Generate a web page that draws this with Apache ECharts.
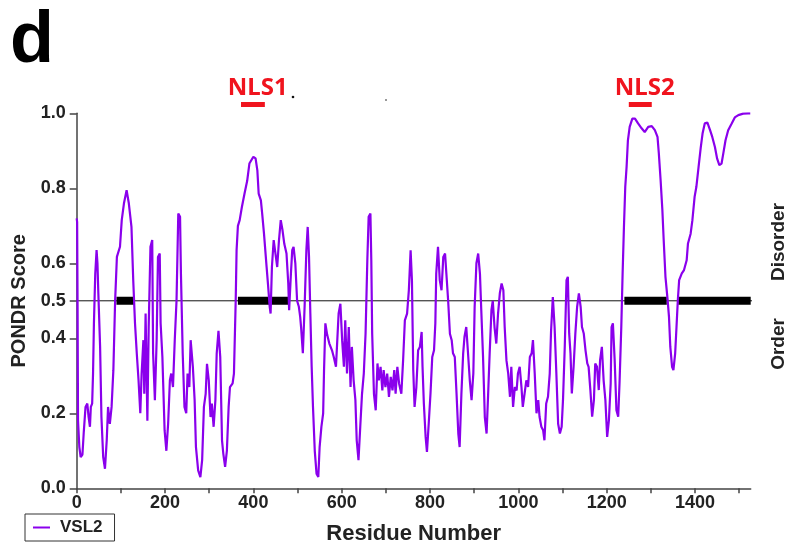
<!DOCTYPE html>
<html>
<head>
<meta charset="utf-8">
<script src="https://cdn.jsdelivr.net/npm/echarts@6/dist/echarts.min.js"></script>
<style>
  html, body { margin: 0; padding: 0; background: #fff; }
  #chart { width: 795px; height: 551px; }
</style>
</head>
<body>
<div id="chart"></div>
<script>
// PONDR VSL2 disorder profile.
const residues = [
  0, 1, 2, 3, 4, 6, 9, 13, 16, 20, 24, 27, 30, 32, 35, 37, 39, 42, 45, 47, 49, 53, 56, 60, 64, 68, 71, 75, 79, 83,
  87, 91, 98, 102, 107, 113, 118, 124, 128, 132, 136, 140, 144, 147, 151, 153, 156, 160, 163, 167, 171, 173, 177, 181, 184, 188, 190, 194, 199, 203,
  207, 211, 214, 218, 222, 226, 230, 234, 236, 240, 244, 248, 251, 255, 258, 263, 267, 270, 275, 280, 284, 288, 292, 295, 299, 303, 306, 310, 314, 317,
  321, 325, 329, 332, 336, 340, 344, 347, 353, 356, 360, 362, 365, 369, 374, 380, 386, 391, 400, 405, 409, 412, 417, 420, 424, 430, 433, 437, 439, 442,
  446, 450, 454, 458, 462, 466, 470, 475, 479, 481, 485, 488, 491, 495, 499, 503, 506, 508, 512, 516, 520, 523, 526, 529, 532, 535, 539, 543, 547, 550,
  554, 558, 560, 563, 567, 572, 578, 582, 587, 590, 593, 597, 601, 605, 608, 612, 616, 620, 623, 627, 631, 634, 638, 642, 646, 650, 654, 658, 661, 665,
  667, 669, 673, 677, 681, 684, 688, 692, 695, 699, 703, 707, 711, 715, 719, 722, 726, 730, 735, 739, 743, 748, 752, 756, 759, 762, 765, 769, 773, 777,
  781, 783, 786, 790, 793, 797, 801, 805, 809, 812, 814, 818, 822, 826, 830, 834, 837, 841, 845, 849, 852, 856, 860, 864, 867, 871, 875, 878, 882, 886,
  890, 894, 898, 901, 905, 909, 913, 916, 920, 924, 928, 931, 935, 939, 942, 946, 950, 954, 958, 962, 966, 969, 973, 977, 981, 984, 988, 992, 996, 999,
  1003, 1007, 1010, 1014, 1018, 1022, 1026, 1030, 1033, 1037, 1041, 1045, 1048, 1052, 1056, 1059, 1063, 1067, 1071, 1074, 1078, 1082, 1086, 1090, 1094, 1098, 1101, 1105, 1109, 1112,
  1115, 1118, 1121, 1125, 1129, 1133, 1137, 1141, 1144, 1148, 1152, 1156, 1159, 1163, 1167, 1171, 1174, 1178, 1182, 1185, 1189, 1193, 1197, 1201, 1205, 1209, 1211, 1214, 1218, 1222,
  1226, 1229, 1233, 1236, 1239, 1242, 1245, 1248, 1252, 1258, 1264, 1271, 1279, 1286, 1294, 1302, 1309, 1315, 1318, 1322, 1326, 1329, 1333, 1338, 1341, 1344, 1348, 1351, 1355, 1358,
  1361, 1364, 1370, 1375, 1381, 1384, 1390, 1394, 1399, 1403, 1408, 1413, 1417, 1422, 1428, 1434, 1439, 1445, 1450, 1455, 1460, 1464, 1469, 1475, 1483, 1490, 1498, 1509, 1520, 1525
];
const vsl2Scores = [
  0.72, 0.71, 0.48, 0.18, 0.18, 0.11, 0.083, 0.09, 0.15, 0.217, 0.226, 0.19, 0.164, 0.217, 0.226, 0.306, 0.44, 0.572, 0.635, 0.6, 0.52, 0.377, 0.19, 0.083, 0.052, 0.128, 0.217, 0.172, 0.217, 0.315,
  0.5, 0.617, 0.644, 0.715, 0.76, 0.795, 0.76, 0.697, 0.555, 0.44, 0.36, 0.288, 0.2, 0.306, 0.395, 0.252, 0.466, 0.18, 0.43, 0.644, 0.662, 0.36, 0.235, 0.395, 0.617, 0.626, 0.44, 0.35, 0.155, 0.1,
  0.172, 0.288, 0.306, 0.27, 0.395, 0.5, 0.733, 0.724, 0.572, 0.36, 0.217, 0.2, 0.306, 0.27, 0.395, 0.324, 0.235, 0.11, 0.048, 0.03, 0.075, 0.217, 0.252, 0.332, 0.288, 0.19, 0.226, 0.164, 0.235, 0.36,
  0.42, 0.35, 0.128, 0.092, 0.057, 0.1, 0.217, 0.27, 0.28, 0.306, 0.5, 0.635, 0.7, 0.715, 0.75, 0.786, 0.82, 0.866, 0.884, 0.88, 0.848, 0.786, 0.768, 0.732, 0.68, 0.59, 0.546, 0.484, 0.466, 0.59,
  0.662, 0.626, 0.59, 0.662, 0.715, 0.688, 0.652, 0.626, 0.546, 0.475, 0.572, 0.635, 0.644, 0.6, 0.5, 0.484, 0.457, 0.43, 0.36, 0.484, 0.635, 0.697, 0.617, 0.466, 0.324, 0.217, 0.1, 0.039, 0.03, 0.11,
  0.164, 0.2, 0.315, 0.44, 0.41, 0.386, 0.368, 0.35, 0.324, 0.395, 0.466, 0.492, 0.395, 0.324, 0.448, 0.306, 0.43, 0.27, 0.377, 0.288, 0.235, 0.128, 0.075, 0.164, 0.252, 0.306, 0.412, 0.608, 0.724, 0.733,
  0.608, 0.412, 0.252, 0.208, 0.333, 0.288, 0.324, 0.261, 0.315, 0.27, 0.306, 0.244, 0.297, 0.261, 0.315, 0.252, 0.324, 0.279, 0.252, 0.341, 0.448, 0.466, 0.528, 0.635, 0.555, 0.315, 0.217, 0.27, 0.368, 0.377,
  0.417, 0.324, 0.226, 0.137, 0.097, 0.172, 0.252, 0.35, 0.368, 0.44, 0.572, 0.644, 0.555, 0.528, 0.617, 0.626, 0.572, 0.5, 0.412, 0.395, 0.36, 0.35, 0.252, 0.146, 0.11, 0.252, 0.36, 0.404, 0.43, 0.36,
  0.288, 0.235, 0.306, 0.484, 0.6, 0.626, 0.572, 0.475, 0.35, 0.19, 0.146, 0.235, 0.36, 0.475, 0.5, 0.43, 0.386, 0.466, 0.52, 0.546, 0.528, 0.43, 0.341, 0.306, 0.244, 0.324, 0.217, 0.27, 0.261, 0.306,
  0.324, 0.27, 0.217, 0.252, 0.288, 0.27, 0.35, 0.36, 0.395, 0.306, 0.2, 0.235, 0.19, 0.164, 0.155, 0.128, 0.226, 0.244, 0.306, 0.42, 0.51, 0.43, 0.306, 0.172, 0.146, 0.164, 0.235, 0.377, 0.555, 0.564,
  0.413, 0.36, 0.253, 0.324, 0.413, 0.484, 0.52, 0.484, 0.43, 0.413, 0.368, 0.333, 0.324, 0.262, 0.191, 0.235, 0.333, 0.324, 0.262, 0.342, 0.377, 0.288, 0.235, 0.137, 0.182, 0.28, 0.43, 0.44, 0.342, 0.208,
  0.191, 0.28, 0.43, 0.573, 0.697, 0.804, 0.857, 0.928, 0.964, 0.986, 0.986, 0.973, 0.96, 0.95, 0.964, 0.966, 0.955, 0.937, 0.893, 0.822, 0.742, 0.662, 0.564, 0.501, 0.457, 0.377, 0.324, 0.315, 0.36, 0.43,
  0.501, 0.555, 0.573, 0.582, 0.608, 0.653, 0.679, 0.715, 0.777, 0.804, 0.857, 0.91, 0.946, 0.973, 0.975, 0.955, 0.937, 0.91, 0.879, 0.862, 0.866, 0.893, 0.928, 0.955, 0.973, 0.989, 0.995, 0.999, 1.0, 1.0
];

// predicted disordered regions (black bars on the 0.5 cut-off)
const disorderStart = [90, 365, 1240, 1362];
const disorderEnd = [130, 479, 1336, 1526];

// nuclear localisation signals marked above the plot
const nlsNames = ["NLS1", "NLS2"];
const nlsStart = [372, 1250];
const nlsEnd = [426, 1302];
const nlsLabelAt = [410, 1286];

const threshold = 0.5;
const thresholdEnd = 1608;   // the cut-off line runs past the axis end
const residueMax = 1526;
const xTickValues = [0, 100, 200, 300, 400, 500, 600, 700, 800, 900, 1000, 1100, 1200, 1300, 1400, 1500];
const xLabelValues = [0, 200, 400, 600, 800, 1000, 1200, 1400];
const yTickValues = [0, 0.2, 0.4, 0.5, 0.6, 0.8, 1.0];

const PURPLE = "#8a00ec";
const RED = "#f0141e";
const INK = "#222";
const ARIAL = "'Liberation Sans', Arial, sans-serif";

const chart = echarts.init(document.getElementById("chart"));

const disorderData = [];
disorderStart.forEach((s, i) => {
  disorderData.push([s, threshold], [disorderEnd[i], threshold], [disorderEnd[i], "-"]);
});

chart.setOption({
  animation: false,
  backgroundColor: "#fff",
  grid: { left: 76.7, right: 44.3, top: 113.3, bottom: 62.7 },
  legend: {
    data: ["VSL2"],
    left: 25, top: 514,
    icon: "rect", itemWidth: 17, itemHeight: 2,
    borderColor: "#333", borderWidth: 1,
    padding: [5, 12, 5, 8],
    textStyle: { fontFamily: ARIAL, fontWeight: "bold", fontSize: 17, color: INK, padding: [0, 0, 0, 5] },
  },
  xAxis: {
    type: "value",
    min: 0, max: residueMax, interval: 100,
    name: "Residue Number",
    nameLocation: "middle", nameGap: 35,
    nameTextStyle: { fontFamily: ARIAL, fontWeight: "bold", fontSize: 22, color: INK },
    axisLine: { lineStyle: { color: "#444", width: 1.5 } },
    axisTick: { length: 5, lineStyle: { color: "#444", width: 1.5 }, customValues: xTickValues },
    axisLabel: {
      customValues: xLabelValues, margin: 6,
      formatter: (v) => String(v),
      fontFamily: ARIAL, fontWeight: "bold", fontSize: 18, color: INK,
    },
    splitLine: { show: false },
  },
  yAxis: {
    type: "value",
    min: 0, max: 1,
    name: "PONDR Score",
    nameLocation: "middle", nameGap: 47, nameRotate: 90,
    nameTextStyle: { fontFamily: ARIAL, fontWeight: "bold", fontSize: 20, color: INK },
    axisLine: { show: true, lineStyle: { color: "#444", width: 1.5 } },
    axisTick: { show: true, length: 7, lineStyle: { color: "#444", width: 1.5 }, customValues: yTickValues },
    axisLabel: {
      customValues: yTickValues, margin: 11,
      formatter: (v) => v.toFixed(1),
      fontFamily: ARIAL, fontWeight: "bold", fontSize: 18, color: INK,
    },
    splitLine: { show: false },
  },
  series: [
    {
      name: "cutoff",
      type: "line",
      data: [[0, threshold], [thresholdEnd, threshold]],
      showSymbol: false, silent: true, clip: false,
      lineStyle: { color: "#111", width: 1 },
      z: 1,
    },
    {
      name: "disorder",
      type: "line",
      data: disorderData,
      showSymbol: false, silent: true, connectNulls: false,
      lineStyle: { color: "#000", width: 8, cap: "butt" },
      z: 2,
    },
    {
      name: "VSL2",
      type: "line",
      data: residues.map((r, i) => [r, vsl2Scores[i]]),
      showSymbol: false,
      color: PURPLE,
      lineStyle: { color: PURPLE, width: 2.2 },
      z: 3,
    },
  ],
});

// annotations placed through the axis scales
const px = (r) => chart.convertToPixel({ xAxisIndex: 0 }, r);
const graphic = [
  { type: "text", x: 10, y: 42, style: { text: "d", fill: "#000", font: "bold 72px " + ARIAL, textVerticalAlign: "middle" } },
  { type: "text", x: 779, y: 242, rotation: Math.PI / 2,
    style: { text: "Disorder", fill: INK, font: "bold 19px " + ARIAL, textAlign: "center", textVerticalAlign: "middle" } },
  { type: "text", x: 779, y: 344, rotation: Math.PI / 2,
    style: { text: "Order", fill: INK, font: "bold 19px " + ARIAL, textAlign: "center", textVerticalAlign: "middle" } },
  { type: "circle", shape: { cx: 293, cy: 97, r: 1.3 }, style: { fill: "#111" } },
  { type: "circle", shape: { cx: 386, cy: 100, r: 1 }, style: { fill: "#777" } },
];
nlsNames.forEach((name, i) => {
  const a = px(nlsStart[i]);
  const b = px(nlsEnd[i]);
  graphic.push({ type: "rect", shape: { x: a, y: 102, width: b - a, height: 5 }, style: { fill: RED } });
  graphic.push({
    type: "text", x: px(nlsLabelAt[i]), y: 88,
    style: { text: name, fill: RED, font: "bold 24px 'Noto Sans', sans-serif", textAlign: "center", textVerticalAlign: "middle" },
  });
});
chart.setOption({ graphic });
</script>
</body>
</html>
